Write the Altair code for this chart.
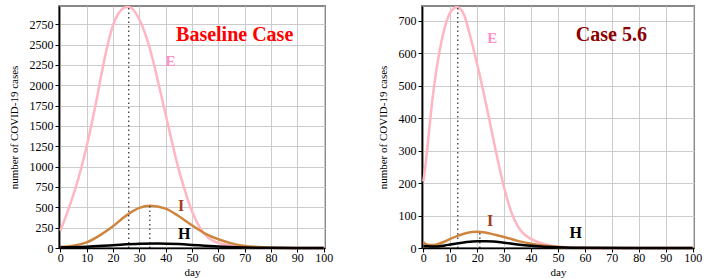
import altair as alt
import pandas as pd

# ---------------- data ----------------
# Baseline case
base_E_days = [0, 2, 4, 6, 8, 10, 12, 14, 16, 18, 20, 22, 24, 25.5, 27, 29, 31, 33, 35, 37, 39, 41, 43, 45, 47, 50, 53, 56, 60, 65, 70, 75, 80, 90, 100]
base_E_vals = [213, 380, 560, 760, 990, 1250, 1540, 1860, 2200, 2500, 2740, 2880, 2950, 2964, 2950, 2870, 2740, 2560, 2330, 2060, 1780, 1500, 1220, 960, 740, 450, 250, 130, 62, 28, 10, 4, 1, 0, 0]
base_I_days = [0, 5, 10, 15, 20, 25, 30, 34, 40, 45, 50, 55, 60, 65, 70, 75, 80, 90, 100]
base_I_vals = [15, 29, 70, 156, 267, 398, 493, 520, 484, 390, 279, 177, 107, 57, 25, 12, 4, 1, 0]
base_H_days = [0, 10, 20, 30, 37, 45, 50, 55, 60, 70, 80, 90, 100]
base_H_vals = [10, 16, 35, 52, 56, 48, 38, 27, 17, 6, 2, 0, 0]
base_peak_days = [26, 34]
base_peak_vals = [2964, 520]

# Case 5.6
c56_E_days = [0, 1, 2, 3, 4, 6, 8, 10, 12.5, 15, 17, 19, 21, 23, 25, 27, 29, 31, 33, 35, 37, 40, 42, 45, 50, 55, 60, 70, 100]
c56_E_vals = [205, 270, 350, 430, 500, 605, 680, 725, 741, 720, 665, 600, 530, 455, 375, 295, 220, 155, 103, 68, 46, 28, 20, 12, 5, 2, 1, 0, 0]
c56_I_days = [0, 1, 3, 5, 8, 10, 13, 16, 20, 23, 26, 30, 35, 40, 45, 50, 55, 60, 100]
c56_I_vals = [18, 12, 9, 11, 20, 28, 38, 46, 50, 48, 42, 34, 22, 13, 7, 3, 1, 0, 0]
c56_H_days = [0, 3, 5, 8, 10, 15, 20, 23, 26, 30, 35, 40, 45, 50, 55, 60, 100]
c56_H_vals = [6, 5, 5, 8, 11, 17, 21, 21, 20, 16, 11, 7, 4, 2, 1, 0.5, 0]
c56_peak_days = [12.8, 21]
c56_peak_vals = [741, 50]

series_names = ["E", "I", "H"]
series_colors = ["#ffb6c1", "#cd853f", "#000000"]
x_ticks = list(range(0, 101, 10))

FONT = "Liberation Serif"


def long_df(days_list, vals_list):
    rows = []
    for name, days, vals in zip(series_names, days_list, vals_list):
        for d, v in zip(days, vals):
            rows.append({"day": d, "value": v, "series": name})
    return pd.DataFrame(rows)


def panel(days_list, vals_list, peak_days, peak_vals, ymax, ystep, width,
          title_text, title_color, title_pos, labels):
    df = long_df(days_list, vals_list)
    xs = alt.Scale(domain=[-0.5, 100.5], nice=False, zero=False)
    ys = alt.Scale(domain=[0, ymax], nice=False)
    common = dict(labelFont=FONT, labelFontSize=12, labelColor="black",
                  titleFont=FONT, titleFontWeight="normal",
                  titleColor="black", tickColor="black", tickSize=4,
                  domainColor="black", domainWidth=1.5, gridColor="#cccccc",
                  gridWidth=1, labelOverlap=False, format="d")
    xaxis = alt.Axis(values=x_ticks, tickCount=11, title="day", titlePadding=3,
                     titleFontSize=11, labelPadding=0, **common)
    yticks = list(range(0, int(ymax) + 1, ystep))
    yaxis = alt.Axis(values=yticks, tickCount=len(yticks), title="number of COVID-19 cases",
                     titleFontSize=11, titlePadding=10, labelPadding=2, **common)
    X = lambda: alt.X("day:Q", scale=xs, axis=xaxis)

    lines = alt.Chart(df).mark_line(strokeWidth=2.5, interpolate="monotone").encode(
        x=X(),
        y=alt.Y("value:Q", scale=ys, axis=yaxis),
        color=alt.Color("series:N", scale=alt.Scale(domain=series_names, range=series_colors), legend=None),
        order=alt.Order("day:Q"),
        detail="series:N",
    )

    peaks = pd.DataFrame({"day": peak_days, "value": [0] * len(peak_days), "top": peak_vals})
    rules = alt.Chart(peaks).mark_rule(color="black", strokeWidth=1, strokeDash=[1.5, 3]).encode(
        x=X(),
        y=alt.Y("value:Q", scale=ys, axis=yaxis),
        y2="top:Q",
    )

    tdf = pd.DataFrame({"day": [title_pos[0]], "value": [title_pos[1]], "t": [title_text]})
    title = alt.Chart(tdf).mark_text(font=FONT, fontWeight="bold", fontSize=20,
                                     color=title_color).encode(
        x=X(), y=alt.Y("value:Q", scale=ys, axis=yaxis), text="t:N")

    layers = [lines, rules, title]
    for txt, pos, col, size in labels:
        ldf = pd.DataFrame({"day": [pos[0]], "value": [pos[1]], "t": [txt]})
        layers.append(alt.Chart(ldf).mark_text(font=FONT, fontWeight="bold", fontSize=size,
                                               color=col).encode(
            x=X(), y=alt.Y("value:Q", scale=ys, axis=yaxis), text="t:N"))

    return alt.layer(*layers).properties(width=width, height=242)


left = panel([base_E_days, base_I_days, base_H_days], [base_E_vals, base_I_vals, base_H_vals],
             base_peak_days, base_peak_vals, 2975, 250, 266,
             "Baseline Case", "#ff0000", (66.2, 2620),
             [("E", (41.8, 2300), "#ff8fc8", 15), ("I", (45.9, 514), "#a0401a", 16),
              ("H", (47, 169), "#000000", 16)])

right = panel([c56_E_days, c56_I_days, c56_H_days], [c56_E_vals, c56_I_vals, c56_H_vals],
              c56_peak_days, c56_peak_vals, 745, 100, 272,
              "Case 5.6", "#8b0000", (69.8, 657),
              [("E", (25.6, 645), "#ff8fc8", 15), ("I", (24.8, 82), "#a0401a", 16),
               ("H", (56.6, 45), "#000000", 16)])

chart = alt.hconcat(left, right, spacing=42).properties(
    padding={"left": 7, "top": 0, "right": 0, "bottom": 0}
).configure_view(
    stroke="#888888", strokeWidth=2
)

chart.save("out.html", embed_options={"renderer": "svg", "actions": False})
